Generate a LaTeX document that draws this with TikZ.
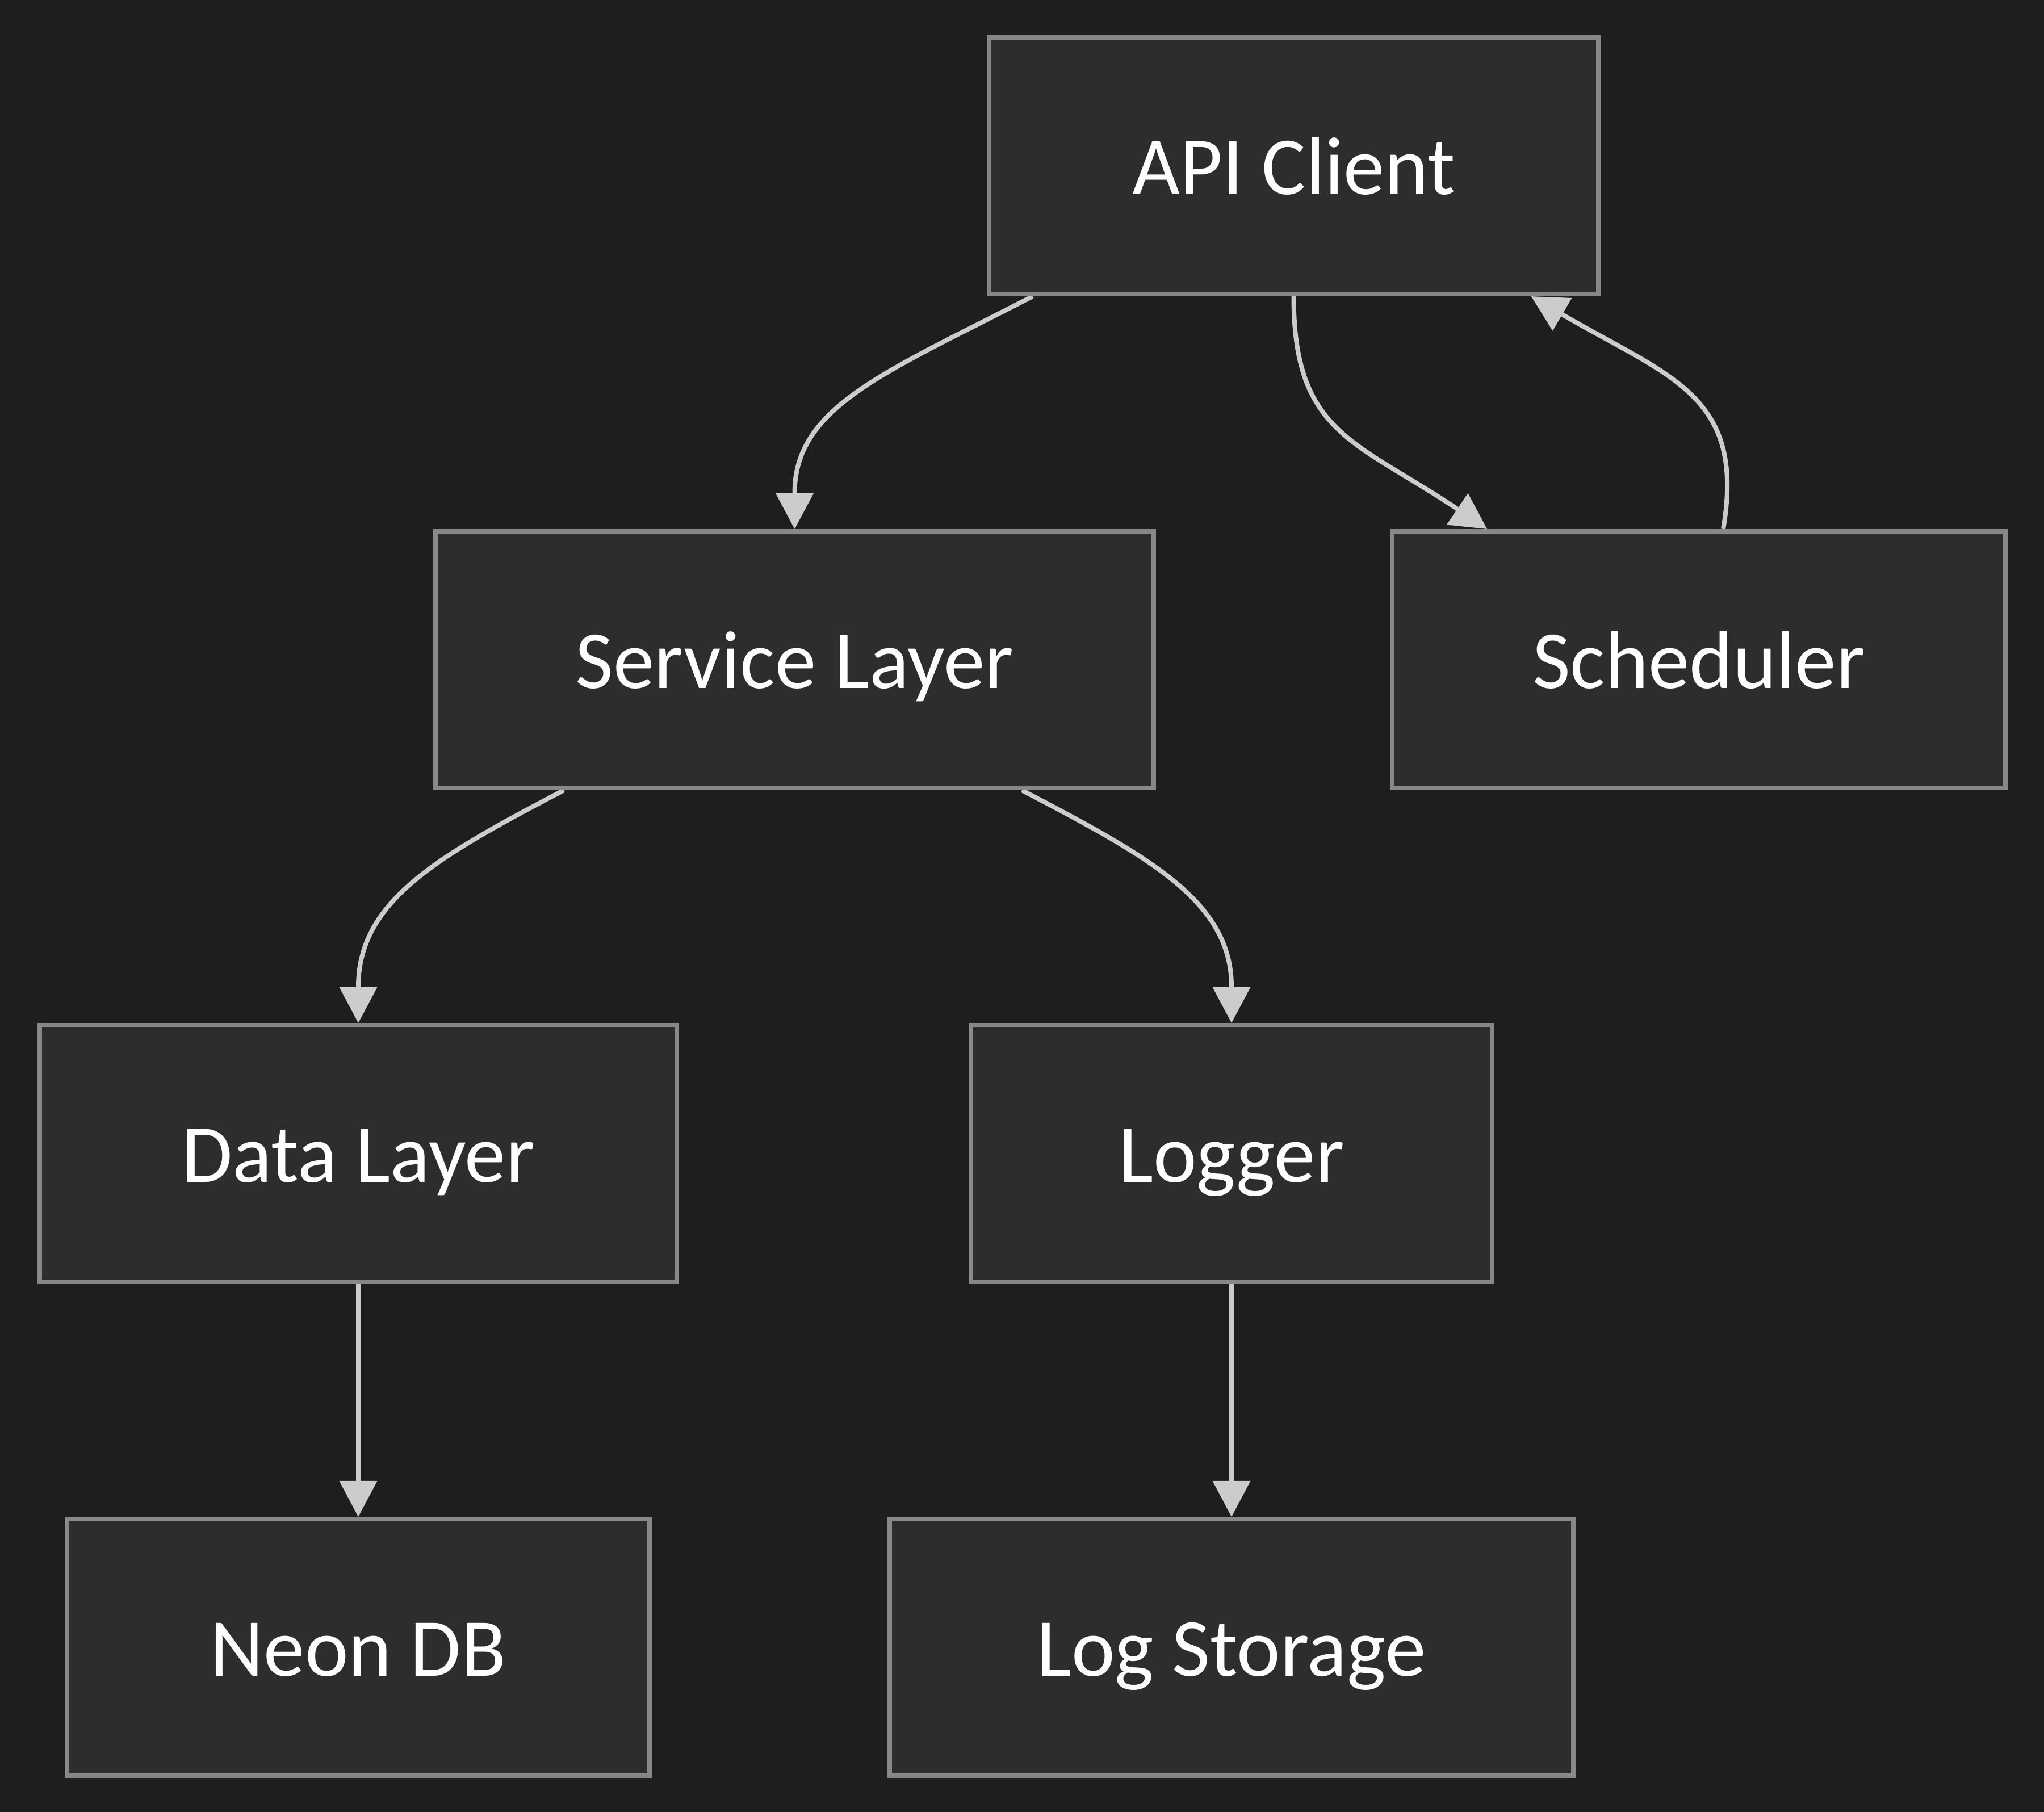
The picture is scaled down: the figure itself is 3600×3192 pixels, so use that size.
\documentclass[tikz,border=0pt]{standalone}
\usepackage{fontspec}
\setmainfont{Carlito}
\usetikzlibrary{arrows.meta,calc}
\definecolor{bgc}{HTML}{1E1E1E}
\definecolor{boxfill}{HTML}{2D2D2D}
\definecolor{boxline}{HTML}{888888}
\definecolor{edgec}{HTML}{CCCCCC}
\pgfdeclarelayer{bglayer}
\pgfdeclarelayer{edgelayer}
\pgfsetlayers{bglayer,edgelayer,main}
\tikzset{
  box/.style={rectangle, draw=boxline, fill=boxfill, line width=0.08cm,
    minimum height=4.52cm, inner sep=0pt, text=white,
    font=\fontsize{41.3}{50}\selectfont, text height=28.5pt, text depth=0pt},
  edge/.style={draw=edgec, line width=0.08cm,
    -{Triangle[length=0.63cm, width=0.67cm, line width=0pt]}},
}
\begin{document}
\begin{tikzpicture}[x=0.01cm, y=-0.01cm]
\begin{pgfonlayer}{bglayer}
\fill[bgc] (0,0) rectangle (3600,3192);
\end{pgfonlayer}
\useasboundingbox (0,0) rectangle (3600,3192);

\node[box, minimum width=10.73cm] (api) at (2278.5,292) {API Client};
\node[box, minimum width=12.65cm] (svc) at (1399.5,1162) {Service Layer};
\node[box, minimum width=10.80cm] (sch) at (2992,1162) {Scheduler};
\node[box, minimum width=11.22cm] (data) at (631,2032) {Data Layer};
\node[box, minimum width=9.18cm] (log) at (2169,2032) {Logger};
\node[box, minimum width=10.26cm] (neon) at (631,2902) {Neon DB};
\node[box, minimum width=12.04cm] (store) at (2169,2902) {Log Storage};

\begin{pgfonlayer}{edgelayer}
\draw[edge] ($(api.south)+(-460,0)$) .. controls ($(api.south)+(-718.5,134)$) and ($(svc.north)+(0,-216)$) .. (svc.north);
\draw[edge] (api.south) .. controls ($(api.south)+(0,242)$) and ($(sch.north)+(-605,-156)$) .. ($(sch.north)+(-373,0)$);
\draw[edge] ($(sch.north)+(43,0)$) .. controls ($(sch.north)+(83,-236)$) and ($(api.south)+(663.5,143)$) .. ($(api.south)+(418.5,0)$);
\draw[edge] ($(svc.south)+(-406.5,0)$) .. controls ($(svc.south)+(-631.5,118)$) and ($(data.north)+(0,-214)$) .. (data.north);
\draw[edge] ($(svc.south)+(400.5,0)$) .. controls ($(svc.south)+(625.5,118)$) and ($(log.north)+(0,-214)$) .. (log.north);
\draw[edge] (data.south) -- (neon.north);
\draw[edge] (log.south) -- (store.north);
\end{pgfonlayer}
\end{tikzpicture}
\end{document}
